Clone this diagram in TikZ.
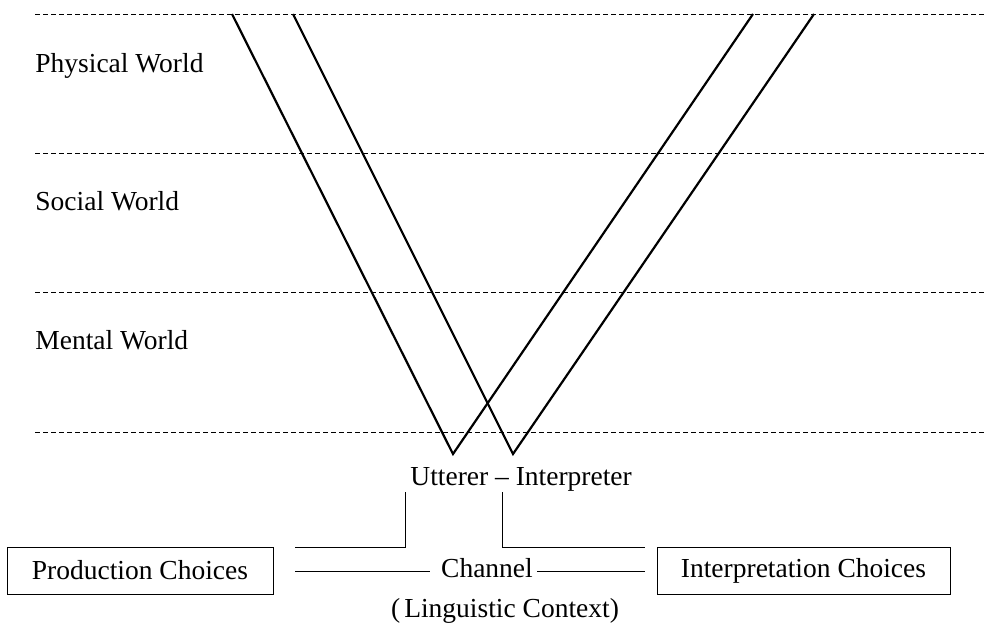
\documentclass[tikz,border=0pt]{standalone}
\usepackage{fontspec}
\setmainfont{Liberation Serif}
\begin{document}
\begin{tikzpicture}[x=0.5pt,y=-0.5pt,
  every node/.style={font=\fontsize{13.75}{16}\selectfont, inner sep=0pt},
  level/.style={line width=0.5pt, dash pattern=on 2.5pt off 1.5pt},
  vline/.style={line width=1.1pt, line join=miter},
  thin/.style={line width=0.5pt},
  choicebox/.style={draw, line width=0.5pt, minimum height=23.5pt, align=center}]
\useasboundingbox (0,0) rectangle (986,632);
% level lines
\coordinate (l1a) at (35,14);  \coordinate (l1b) at (986,14);
\coordinate (l2a) at (35,153); \coordinate (l2b) at (986,153);
\coordinate (l3a) at (35,292); \coordinate (l3b) at (986,292);
\coordinate (l4a) at (35,432); \coordinate (l4b) at (986,432);
\draw[level] (l1a) -- (l1b);
\draw[level] (l2a) -- (l2b);
\draw[level] (l3a) -- (l3b);
\draw[level] (l4a) -- (l4b);
% world labels
\node[anchor=base west] (pw) at (35,72) {Physical World};
\node[anchor=base west] (sw) at (35,210) {Social World};
\node[anchor=base west] (mw) at (35,349) {Mental World};
% V shapes
\coordinate (a1) at (232,14); \coordinate (b1) at (453,454); \coordinate (c1) at (753,14);
\coordinate (a2) at (293,14); \coordinate (b2) at (513,454); \coordinate (c2) at (814,14);
\draw[vline] (a1) -- (b1) -- (c1);
\draw[vline] (a2) -- (b2) -- (c2);
% utterer - interpreter
\node[anchor=base west] (ui) at (410,485) {Utterer -- Interpreter};
% brackets
\coordinate (ul) at (405,492); \coordinate (ulc) at (405,547); \coordinate (ule) at (295,547);
\coordinate (ur) at (502,492); \coordinate (urc) at (502,547); \coordinate (ure) at (645,547);
\draw[thin] (ule) -- (ulc) -- (ul);
\draw[thin] (ur) -- (urc) -- (ure);
% boxes
\node[choicebox, minimum width=133pt] (prod) at (140,570.5) {Production Choices};
\node[choicebox, minimum width=146.5pt] (interp) at (803.5,570.5) {Interpretation Choices};
% channel
\node[anchor=base] (chan) at (487,577) {Channel};
\coordinate (cl) at (295,571); \coordinate (clr) at (430,571);
\coordinate (cr) at (537,571); \coordinate (crr) at (645,571);
\draw[thin] (cl) -- (clr);
\draw[thin] (cr) -- (crr);
% linguistic context
\node[anchor=base] (ling) at (505,617) {(\kern2pt Linguistic Context)};
\end{tikzpicture}
\end{document}
